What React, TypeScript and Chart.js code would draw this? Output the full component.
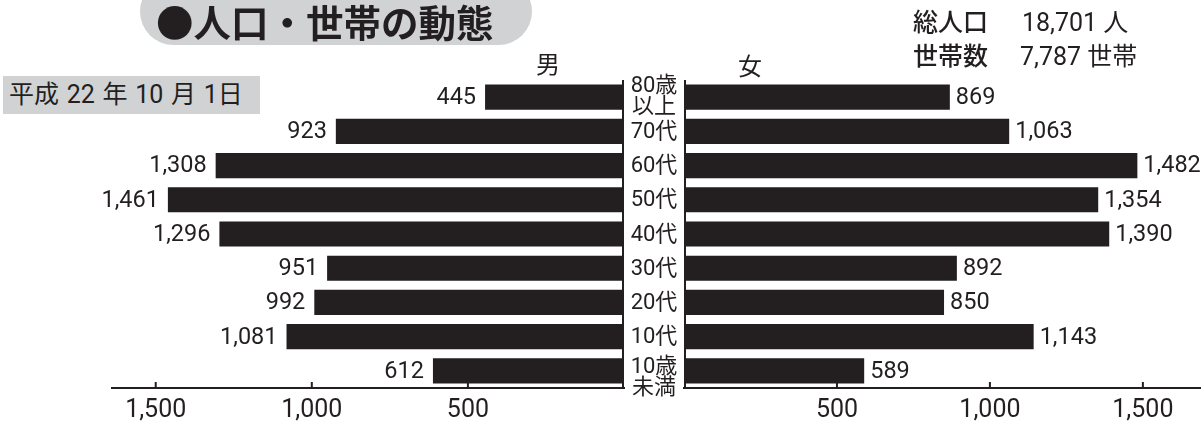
import React, { useEffect, useRef } from 'react';
import { Chart, registerables } from 'chart.js';

Chart.register(...registerables);

const ageGroups = ['80歳\n以上', '70代', '60代', '50代', '40代', '30代', '20代', '10代', '10歳\n未満'];
const maleValues = [445, 923, 1308, 1461, 1296, 951, 992, 1081, 612];
const femaleValues = [869, 1063, 1482, 1354, 1390, 892, 850, 1143, 589];
const tickValues = [500, 1000, 1500];

const titleText = '●人口・世帯の動態';
const dateText = '平成 22 年 10 月 1日';
const maleLabel = '男';
const femaleLabel = '女';
const totalPopLabel = '総人口';
const totalPopValue = '18,701 人';
const householdLabel = '世帯数';
const householdValue = '7,787 世帯';

const INK = '#231f20';
const GREY = '#d1d2d4';
const NUM_FONT = "Roboto, 'Noto Sans CJK JP', sans-serif";
const JP_FONT = "Roboto, 'Noto Sans CJK JP', sans-serif";

const fmt = (v: number) => v.toLocaleString('en-US');

const pyramidPlugin = {
  id: 'pyramid',
  afterDatasetsDraw(chart: any, _args: any, opts: any) {
    const { ctx, chartArea } = chart;
    const side = opts.side;
    const xs = chart.scales.x;
    const ys = chart.scales.y;
    ctx.save();
    ctx.strokeStyle = INK;
    ctx.lineWidth = 2;
    const bx = side === 'left' ? chartArea.right - 1 : chartArea.left + 1;
    ctx.beginPath();
    ctx.moveTo(bx, chartArea.top);
    ctx.lineTo(bx, chartArea.bottom);
    ctx.stroke();

    ctx.fillStyle = INK;
    ctx.textBaseline = 'middle';
    ctx.textAlign = 'center';
    ctx.font = `25px ${NUM_FONT}`;
    tickValues.forEach((v) => {
      const px = xs.getPixelForValue(v);
      ctx.beginPath();
      ctx.moveTo(px, chartArea.bottom);
      ctx.lineTo(px, chartArea.bottom - 6);
      ctx.stroke();
      ctx.fillText(fmt(v), px, chartArea.bottom + 23);
    });

    const meta = chart.getDatasetMeta(0);
    const data = chart.data.datasets[0].data as number[];
    ctx.font = `23.5px ${NUM_FONT}`;
    meta.data.forEach((bar: any, i: number) => {
      const txt = fmt(data[i]);
      if (side === 'left') {
        ctx.textAlign = 'right';
        ctx.fillText(txt, bar.x - 9, bar.y + 1);
      } else {
        ctx.textAlign = 'left';
        ctx.fillText(txt, bar.x + 6, bar.y + 1);
      }
    });

    if (side === 'right') {
      ctx.font = `22px ${JP_FONT}`;
      ctx.textAlign = 'center';
      const last = ageGroups.length - 1;
      ageGroups.forEach((lab, i) => {
        const lines = lab.split('\n');
        const y = ys.getPixelForValue(i);
        const lh = 21;
        const start = lines.length === 1 ? y + 1 : i === last ? y - 3 : y - 11;
        lines.forEach((ln, j) => {
          ctx.fillText(ln, chartArea.left - 30, start + j * lh);
        });
      });
    }
    ctx.restore();
  },
};

function makeChart(canvas: HTMLCanvasElement, side: 'left' | 'right') {
  const values = side === 'left' ? maleValues : femaleValues;
  return new Chart(canvas, {
    type: 'bar',
    data: {
      labels: ageGroups,
      datasets: [
        {
          data: values,
          backgroundColor: INK,
          borderWidth: 0,
          categoryPercentage: 1,
          barPercentage: 0.735,
        },
      ],
    },
    plugins: [pyramidPlugin],
    options: {
      animation: false,
      responsive: false,
      maintainAspectRatio: false,
      indexAxis: 'y',
      layout: {
        padding:
          side === 'left'
            ? { left: 112, right: 16, top: 80, bottom: 0 }
            : { left: 60, right: 0, top: 80, bottom: 0 },
      },
      plugins: {
        legend: { display: false },
        tooltip: { enabled: false },
        pyramid: { side },
      } as any,
      scales: {
        x: {
          type: 'linear',
          reverse: side === 'left',
          min: 0,
          max: side === 'left' ? 1640 : 1690,
          afterFit: (s: any) => {
            s.height = 40;
          },
          border: { display: true, color: INK, width: 2 },
          grid: { display: true, drawOnChartArea: false, drawTicks: false },
          ticks: { display: false, stepSize: 500 },
        },
        y: { type: 'category', display: false, offset: true },
      },
    } as any,
  });
}

export default function App() {
  const leftRef = useRef<HTMLCanvasElement>(null);
  const rightRef = useRef<HTMLCanvasElement>(null);

  useEffect(() => {
    const l = makeChart(leftRef.current!, 'left');
    const r = makeChart(rightRef.current!, 'right');
    return () => {
      l.destroy();
      r.destroy();
    };
  }, []);

  const abs = (s: React.CSSProperties): React.CSSProperties => ({
    position: 'absolute',
    whiteSpace: 'nowrap',
    color: INK,
    ...s,
  });

  return (
    <div
      style={{
        position: 'absolute',
        left: 0,
        top: 0,
        width: 1201,
        height: 428,
        overflow: 'hidden',
        background: '#fff',
        fontFamily: JP_FONT,
      }}
    >
      <canvas ref={leftRef} width={640} height={428} style={abs({ left: 0, top: 0, width: 640, height: 428 })} />
      <canvas ref={rightRef} width={577} height={428} style={abs({ left: 624, top: 0, width: 577, height: 428 })} />

      <div style={abs({ left: 140, top: -22, width: 392, height: 67, borderRadius: 34, background: GREY })} />
      <div
        style={abs({
          left: 156,
          top: -2,
          height: 46,
          lineHeight: '46px',
          fontSize: 37.5,
          fontWeight: 700,
          fontFamily: "'Noto Sans CJK JP', sans-serif",
        })}
      >
        {titleText}
      </div>

      <div style={abs({ left: 3, top: 76, width: 257, height: 38, background: GREY })} />
      <div style={abs({ left: 9, top: 76, height: 38, lineHeight: '38px', fontSize: 25, wordSpacing: 1.5 })}>{dateText}</div>

      <div style={abs({ left: 536, top: 50, lineHeight: '30px', fontSize: 24 })}>{maleLabel}</div>
      <div style={abs({ left: 738, top: 52, lineHeight: '30px', fontSize: 24 })}>{femaleLabel}</div>

      <div style={abs({ left: 913, top: 8, lineHeight: '30px', fontSize: 25, fontWeight: 500 })}>{totalPopLabel}</div>
      <div style={abs({ left: 1022, top: 8, lineHeight: '30px', fontSize: 25 })}>{totalPopValue}</div>
      <div style={abs({ left: 913, top: 42, lineHeight: '30px', fontSize: 25, fontWeight: 500 })}>{householdLabel}</div>
      <div style={abs({ left: 1020, top: 42, lineHeight: '30px', fontSize: 25 })}>{householdValue}</div>
    </div>
  );
}
